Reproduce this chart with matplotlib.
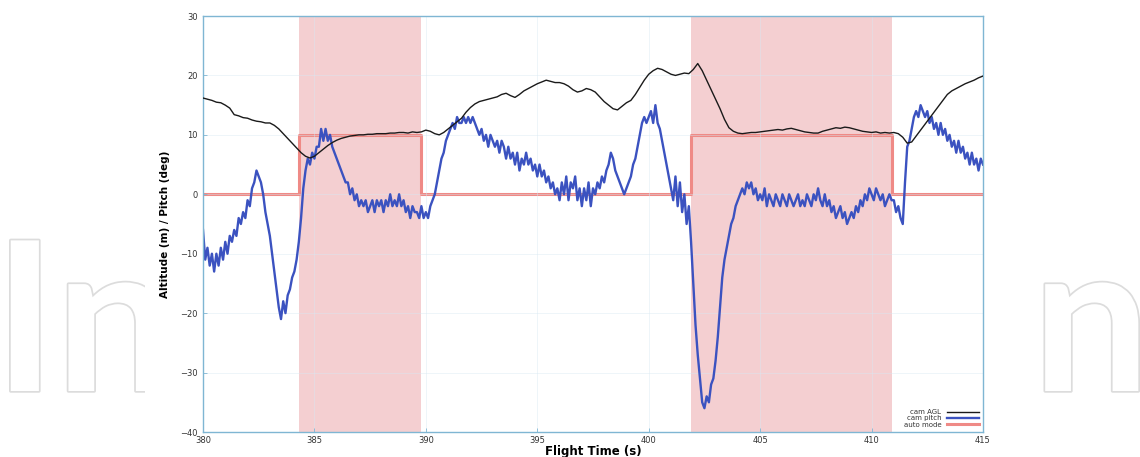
import numpy as np
import matplotlib
matplotlib.use("Agg")
import matplotlib.pyplot as plt
from matplotlib.patches import Rectangle
import matplotlib.patheffects as pe

# ---------------- data ----------------
# camera pitch (deg), sampled every 0.1 s from 380.0 to 415.0
pitch_t0, pitch_dt = 380.0, 0.1
cam_pitch = [
    -6, -11, -9, -12, -10, -13, -10, -12, -9, -11,      # 380
    -8, -10, -7, -8, -6, -7, -4, -5, -3, -4,            # 381
    -1, -2, 1, 2, 4, 3, 2, 0, -3, -5,                   # 382
    -7, -10, -13, -16, -19, -21, -18, -20, -17, -16,    # 383
    -14, -13, -11, -8, -4, 1, 4, 6, 5, 7,               # 384
    6, 8, 8, 11, 9, 11, 9, 10, 8, 7,                    # 385
    6, 5, 4, 3, 2, 2, 0, 1, -1, 0,                      # 386
    -2, -1, -2, -1, -3, -2, -1, -3, -1, -2,             # 387
    -1, -3, -1, -2, 0, -2, -1, -2, 0, -2,               # 388
    -1, -3, -2, -4, -2, -3, -3, -4, -2, -4,             # 389
    -3, -4, -2, -1, 0, 2, 4, 6, 7, 9,                   # 390
    10, 11, 12, 11, 13, 12, 12, 13, 12, 13,             # 391
    12, 13, 12, 11, 10, 11, 9, 10, 8, 10,               # 392
    9, 8, 9, 7, 9, 8, 6, 8, 6, 7,                       # 393
    5, 7, 4, 6, 5, 7, 5, 6, 4, 5,                       # 394
    3, 5, 3, 4, 2, 3, 1, 2, 0, 1,                       # 395
    -1, 2, 0, 3, -1, 2, 1, 3, -1, 1,                    # 396
    -2, 1, -1, 2, -2, 1, 0, 2, 1, 3,                    # 397
    2, 4, 5, 7, 6, 4, 3, 2, 1, 0,                       # 398
    1, 2, 3, 5, 6, 8, 10, 12, 13, 12,                   # 399
    13, 14, 12, 15, 12, 11, 9, 7, 5, 3,                 # 400
    1, -1, 3, -2, 2, -3, 0, -5, -2, -8,                 # 401
    -15, -22, -27, -31, -35, -36, -34, -35, -32, -31,   # 402
    -28, -24, -19, -14, -11, -9, -7, -5, -4, -2,        # 403
    -1, 0, 1, 0, 2, 1, 2, 0, 1, -1,                     # 404
    0, -1, 1, -2, 0, -1, -2, 0, -1, -2,                 # 405
    0, -1, -2, 0, -1, -2, -1, 0, -2, -1,                # 406
    -2, 0, -1, -2, 0, -1, 1, -1, -2, 0,                 # 407
    -2, -1, -3, -2, -4, -3, -2, -4, -3, -5,             # 408
    -4, -3, -4, -2, -3, -1, -2, 0, -1, 1,               # 409
    0, -1, 1, 0, -1, 0, -2, -1, 0, -1,                  # 410
    -1, -3, -2, -4, -5, 2, 8, 9, 11, 13,                # 411
    14, 13, 15, 14, 13, 14, 12, 13, 11, 12,             # 412
    10, 12, 10, 11, 9, 10, 8, 9, 7, 9,                  # 413
    7, 8, 6, 7, 5, 7, 5, 6, 4, 6,                       # 414
    5,                                                  # 415
]

# camera altitude above ground (m), sampled every 0.2 s from 380.0 to 415.0
agl_t0, agl_dt = 380.0, 0.2
cam_agl = [
    16.2, 16.0, 15.8, 15.5, 15.4,   # 380
    15.0, 14.5, 13.4, 13.2, 12.9,   # 381
    12.8, 12.5, 12.3, 12.2, 12.0,   # 382
    12.0, 11.6, 11.0, 10.2, 9.4,    # 383
    8.6, 7.8, 7.0, 6.4, 6.1,        # 384
    6.4, 7.0, 7.6, 8.2, 8.7,        # 385
    9.1, 9.4, 9.6, 9.8, 9.9,        # 386
    10.0, 10.0, 10.1, 10.1, 10.2,   # 387
    10.2, 10.2, 10.3, 10.3, 10.4,   # 388
    10.4, 10.3, 10.5, 10.4, 10.5,   # 389
    10.8, 10.6, 10.2, 10.0, 10.4,   # 390
    11.0, 11.6, 12.2, 12.8, 13.8,   # 391
    14.6, 15.2, 15.6, 15.8, 16.0,   # 392
    16.2, 16.4, 16.8, 17.0, 16.6,   # 393
    16.3, 16.8, 17.4, 17.8, 18.2,   # 394
    18.6, 18.9, 19.2, 19.0, 18.8,   # 395
    18.8, 18.6, 18.2, 17.6, 17.2,   # 396
    17.4, 17.8, 17.6, 17.2, 16.4,   # 397
    15.6, 15.0, 14.4, 14.2, 14.8,   # 398
    15.4, 15.8, 16.8, 18.0, 19.2,   # 399
    20.2, 20.8, 21.2, 21.0, 20.6,   # 400
    20.2, 20.0, 20.2, 20.4, 20.3,   # 401
    21.0, 22.0, 20.8, 19.2, 17.6,   # 402
    16.0, 14.4, 12.6, 11.2, 10.6,   # 403
    10.3, 10.2, 10.3, 10.4, 10.4,   # 404
    10.5, 10.6, 10.7, 10.8, 10.9,   # 405
    10.8, 11.0, 11.1, 10.9, 10.7,   # 406
    10.5, 10.4, 10.3, 10.3, 10.6,   # 407
    10.8, 11.0, 11.2, 11.1, 11.3,   # 408
    11.2, 11.0, 10.8, 10.6, 10.5,   # 409
    10.4, 10.5, 10.3, 10.4, 10.3,   # 410
    10.4, 10.2, 9.6, 8.6, 8.8,      # 411
    9.8, 10.8, 11.8, 12.8, 13.8,    # 412
    14.8, 15.8, 16.8, 17.4, 17.8,   # 413
    18.2, 18.6, 18.9, 19.2, 19.6,   # 414
    19.9,                           # 415
]

# auto mode intervals (start, end) in seconds; value 10 when on, 0 when off
auto_intervals = [(384.3, 389.8), (401.9, 410.9)]
auto_on_value = 10
auto_off_value = 0

x_ticks = [380, 385, 390, 395, 400, 405, 410, 415]
y_ticks = [-40, -30, -20, -10, 0, 10, 20, 30]
legend_labels = ["cam AGL", "cam pitch", "auto mode"]
x_label = "Flight Time (s)"
y_label = "Altitude (m) / Pitch (deg)"
watermark_left = "In"    # visible ends of the "IntechOpen" watermark
watermark_right = "n"

# ---------------- derived ----------------
t_pitch = pitch_t0 + pitch_dt * np.arange(len(cam_pitch))
t_agl = agl_t0 + agl_dt * np.arange(len(cam_agl))

mode_t = [x_ticks[0]]
mode_v = [auto_off_value]
for s, e in auto_intervals:
    mode_t += [s, s, e, e]
    mode_v += [auto_off_value, auto_on_value, auto_on_value, auto_off_value]
mode_t.append(x_ticks[-1])
mode_v.append(auto_off_value)

# ---------------- figure ----------------
W, H = 1140, 457
fig = plt.figure(figsize=(W / 100, H / 100), dpi=100)
fig.patch.set_facecolor("white")

# watermark (outlined letters behind the chart panel)
wm_kw = dict(fontsize=150, family="Lato", fontweight="bold", color="white",
             va="baseline", zorder=-3,
             path_effects=[pe.withStroke(linewidth=2.5, foreground="#dcdcdc")])
fig.text(-6 / W, (H - 391) / H, watermark_left, ha="left", **wm_kw)
fig.text(1150 / W, (H - 391) / H, watermark_right, ha="right", **wm_kw)
# white panel holding the chart
fig.patches.append(Rectangle((145 / W, 0), (1008 - 145) / W, 1,
                             transform=fig.transFigure, facecolor="white",
                             edgecolor="none", zorder=-2))

ax = fig.add_axes([203 / W, (H - 432) / H, (983 - 203) / W, (432 - 16) / H])
ax.set_zorder(1)

for s, e in auto_intervals:
    ax.axvspan(s, e, color="#f4cfd1", lw=0, zorder=0)

l_agl, = ax.plot(t_agl, cam_agl, color="#1a1a1a", lw=1.0, zorder=3)
l_pitch, = ax.plot(t_pitch, cam_pitch, color="#3b52c0", lw=1.7, zorder=2)
l_mode, = ax.plot(mode_t, mode_v, color="#ef8a86", lw=2.2, zorder=1.5)

ax.set_xlim(x_ticks[0], x_ticks[-1])
ax.set_ylim(y_ticks[0], y_ticks[-1])
ax.set_xticks(x_ticks)
ax.set_yticks(y_ticks)
ax.tick_params(direction="in", length=3, width=0.6, color="#7fb6d3",
               labelsize=6, labelcolor="#333333", pad=4)
ax.tick_params(axis="x", pad=3)
ax.grid(True, color="#d7e9f3", lw=0.5, alpha=0.6)
for sp in ax.spines.values():
    sp.set_color("#7fb6d3")
    sp.set_linewidth(1.0)

ax.set_xlabel(x_label, fontsize=8.5, fontweight="bold", labelpad=0)
ax.set_ylabel(y_label, fontsize=7.5, fontweight="bold", labelpad=7)

leg = ax.legend([l_agl, l_pitch, l_mode], legend_labels, loc="lower right",
                frameon=False, markerfirst=False, fontsize=5,
                handlelength=4.6, handletextpad=0.8, labelspacing=0.05,
                borderaxespad=0.4, borderpad=0.2)
for txt in leg.get_texts():
    txt.set_color("#333333")

fig.savefig("out.png", dpi=100)
